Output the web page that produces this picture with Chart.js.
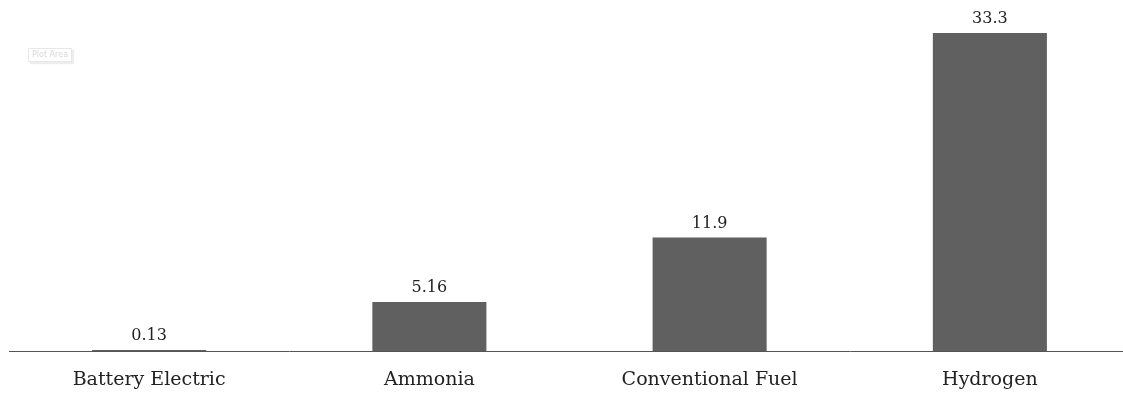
<!DOCTYPE html>
<html>
<head>
<meta charset="utf-8">
<script src="https://cdn.jsdelivr.net/npm/chart.js@4/dist/chart.umd.min.js"></script>
<style>
  html, body { margin: 0; padding: 0; background: #fff; overflow: hidden; }
  #wrap { position: relative; width: 1132px; height: 408px; }
  #plotTag {
    position: absolute; left: 28px; top: 48px;
    font: 8px "DejaVu Sans", sans-serif; color: #d8d8d8;
    border: 1px solid #e8e8e8; padding: 2px 3px; line-height: 8px;
    box-shadow: 2px 2px 1px #eee; background: #fff;
  }
</style>
</head>
<body>
<div id="wrap">
  <canvas id="chart" width="1132" height="408"></canvas>
  <div id="plotTag">Plot Area</div>
</div>
<script>
const categories = ["Battery Electric", "Ammonia", "Conventional Fuel", "Hydrogen"];
const values = [0.13, 5.16, 11.9, 33.3];
const valueLabels = ["0.13", "5.16", "11.9", "33.3"];

const serif = "'DejaVu Serif', 'Liberation Serif', serif";

const valueLabelPlugin = {
  id: 'valueLabels',
  afterDatasetsDraw(chart) {
    const ctx = chart.ctx;
    const meta = chart.getDatasetMeta(0);
    ctx.save();
    ctx.font = "16px " + serif;
    ctx.fillStyle = "#222";
    ctx.textAlign = "center";
    ctx.textBaseline = "bottom";
    meta.data.forEach((bar, i) => {
      ctx.fillText(valueLabels[i], bar.x, bar.y - 6);
    });
    ctx.restore();
  }
};

new Chart(document.getElementById('chart'), {
  type: 'bar',
  data: {
    labels: categories,
    datasets: [{
      data: values,
      backgroundColor: '#606060',
      borderWidth: 0,
      barPercentage: 0.814,
      categoryPercentage: 0.5
    }]
  },
  options: {
    responsive: false,
    animation: false,
    layout: { padding: { left: 9, right: 2, top: 0, bottom: 0 } },
    plugins: { legend: { display: false }, tooltip: { enabled: false } },
    scales: {
      x: {
        grid: { display: false, drawTicks: false },
        border: { display: true, color: '#555', width: 1 },
        ticks: { color: '#222', font: { family: serif, size: 19 }, padding: 17 }
      },
      y: {
        display: false,
        min: 0,
        max: 36.74,
        grid: { display: false }
      }
    }
  },
  plugins: [valueLabelPlugin]
});
</script>
</body>
</html>
